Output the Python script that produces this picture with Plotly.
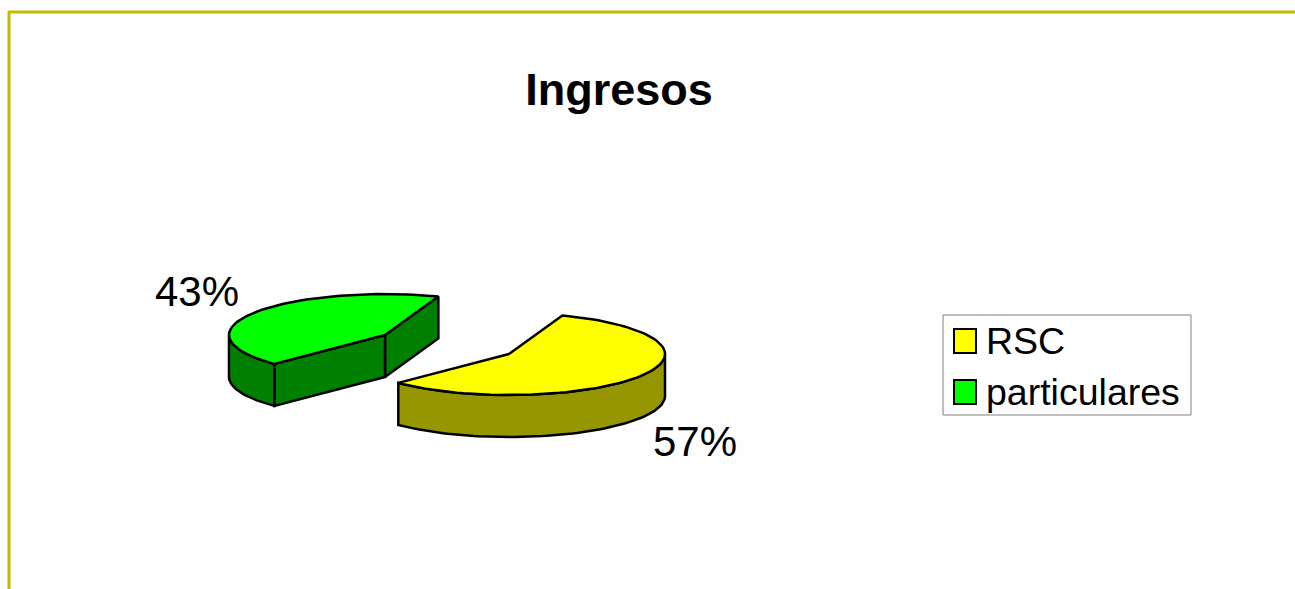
import math
import plotly.graph_objects as go

TITLE = "Ingresos"
CATEGORIES = ["RSC", "particulares"]
SHARES = [57, 43]
TOP_COLORS = ["#ffff00", "#00ff00"]
SIDE_COLORS = ["#969600", "#008000"]

# projection of the tilted pie (pixels)
RX, RY, DEPTH = 156, 41, 42
CENTERS = [(509, 354), (385, 335)]
START_DEG = 70  # first slice starts here and runs clockwise
LABEL_POS = [(695, 441), (197, 291)]
KEY_ROWS = [(329, 353), (380, 404)]

ang0 = START_DEG
ang1 = ang0 - SHARES[0] / sum(SHARES) * 360


def pt(c, a, dz=0):
    r = math.radians(a)
    return c[0] + RX * math.cos(r), c[1] - RY * math.sin(r) + dz


def arc(c, a, b, dz=0, n=80):
    return [pt(c, a + (b - a) * i / n, dz) for i in range(n + 1)]


def add_poly(fig, pts, color):
    xs = [p[0] for p in pts] + [pts[0][0]]
    ys = [p[1] for p in pts] + [pts[0][1]]
    fig.add_trace(go.Scatter(x=xs, y=ys, mode="lines", fill="toself", fillcolor=color,
                             line=dict(color="black", width=2.5), hoverinfo="skip",
                             showlegend=False))


def add_wall(fig, a, b, color):
    add_poly(fig, [a, b, (b[0], b[1] + DEPTH), (a[0], a[1] + DEPTH)], color)


fig = go.Figure()

# particulares (back, left slice)
c = CENTERS[1]
g_start, g_end = ang1, ang0 - 360
add_wall(fig, c, pt(c, g_end), SIDE_COLORS[1])
add_wall(fig, c, pt(c, g_start), SIDE_COLORS[1])
front = arc(c, -180, g_start)
add_poly(fig, front + arc(c, g_start, -180, DEPTH), SIDE_COLORS[1])
add_poly(fig, [c] + arc(c, g_start, g_end), TOP_COLORS[1])

# RSC (front, right slice)
c = CENTERS[0]
front = arc(c, 0, ang1)
add_poly(fig, front + arc(c, ang1, 0, DEPTH), SIDE_COLORS[0])
add_poly(fig, [c] + arc(c, ang0, ang1), TOP_COLORS[0])

# legend entries
for name, col in zip(CATEGORIES, TOP_COLORS):
    fig.add_trace(go.Scatter(x=[None], y=[None], mode="markers", name=name,
                             marker=dict(symbol="square", size=16, color=col,
                                         line=dict(width=0))))

# percent labels
for share, (lx, ly) in zip(SHARES, LABEL_POS):
    fig.add_annotation(x=lx, y=ly, text=f"{share}%", showarrow=False,
                       font=dict(size=42, color="black"))

# the legend caps its symbol size, so the larger outlined keys sit beneath it
keys = [
    dict(type="rect", xref="x", yref="y", x0=954, x1=976, y0=y0, y1=y1,
         fillcolor=col, line=dict(color="black", width=2), layer="above")
    for (y0, y1), col in zip(KEY_ROWS, TOP_COLORS)
]

fig.update_layout(
    width=1295, height=589, margin=dict(l=0, r=0, t=0, b=0),
    paper_bgcolor="white", plot_bgcolor="rgba(0,0,0,0)",
    font=dict(family="Liberation Sans", color="black"),
    title=dict(text=f"<b>{TITLE}</b>", x=619 / 1295, xanchor="center",
               y=1 - 89 / 589, yanchor="middle", font=dict(size=45, color="black")),
    xaxis=dict(range=[0, 1295], visible=False, fixedrange=True),
    yaxis=dict(range=[589, 0], visible=False, fixedrange=True),
    legend=dict(x=946 / 1295, xanchor="left", y=1 - 308 / 589, yanchor="top",
                bgcolor="rgba(0,0,0,0)", borderwidth=0,
                font=dict(size=37.5, color="black")),
    shapes=[
        dict(type="rect", xref="x", yref="y", x0=70, y0=65, x1=1230, y1=589,
             fillcolor="#fefefe", line_width=0, layer="below"),
        dict(type="rect", xref="x", yref="y", x0=943, y0=315, x1=1191, y1=415,
             fillcolor="white", line=dict(color="#808080", width=1), layer="below"),
        dict(type="line", xref="x", yref="y", x0=8, x1=1295, y0=12, y1=12,
             line=dict(color="#c8b800", width=3)),
        dict(type="line", xref="x", yref="y", x0=9, x1=9, y0=11, y1=589,
             line=dict(color="#c8b800", width=3)),
    ] + keys,
)

fig.write_html("out.html", config={"displayModeBar": False},
               post_script="document.body.style.margin='0';")
